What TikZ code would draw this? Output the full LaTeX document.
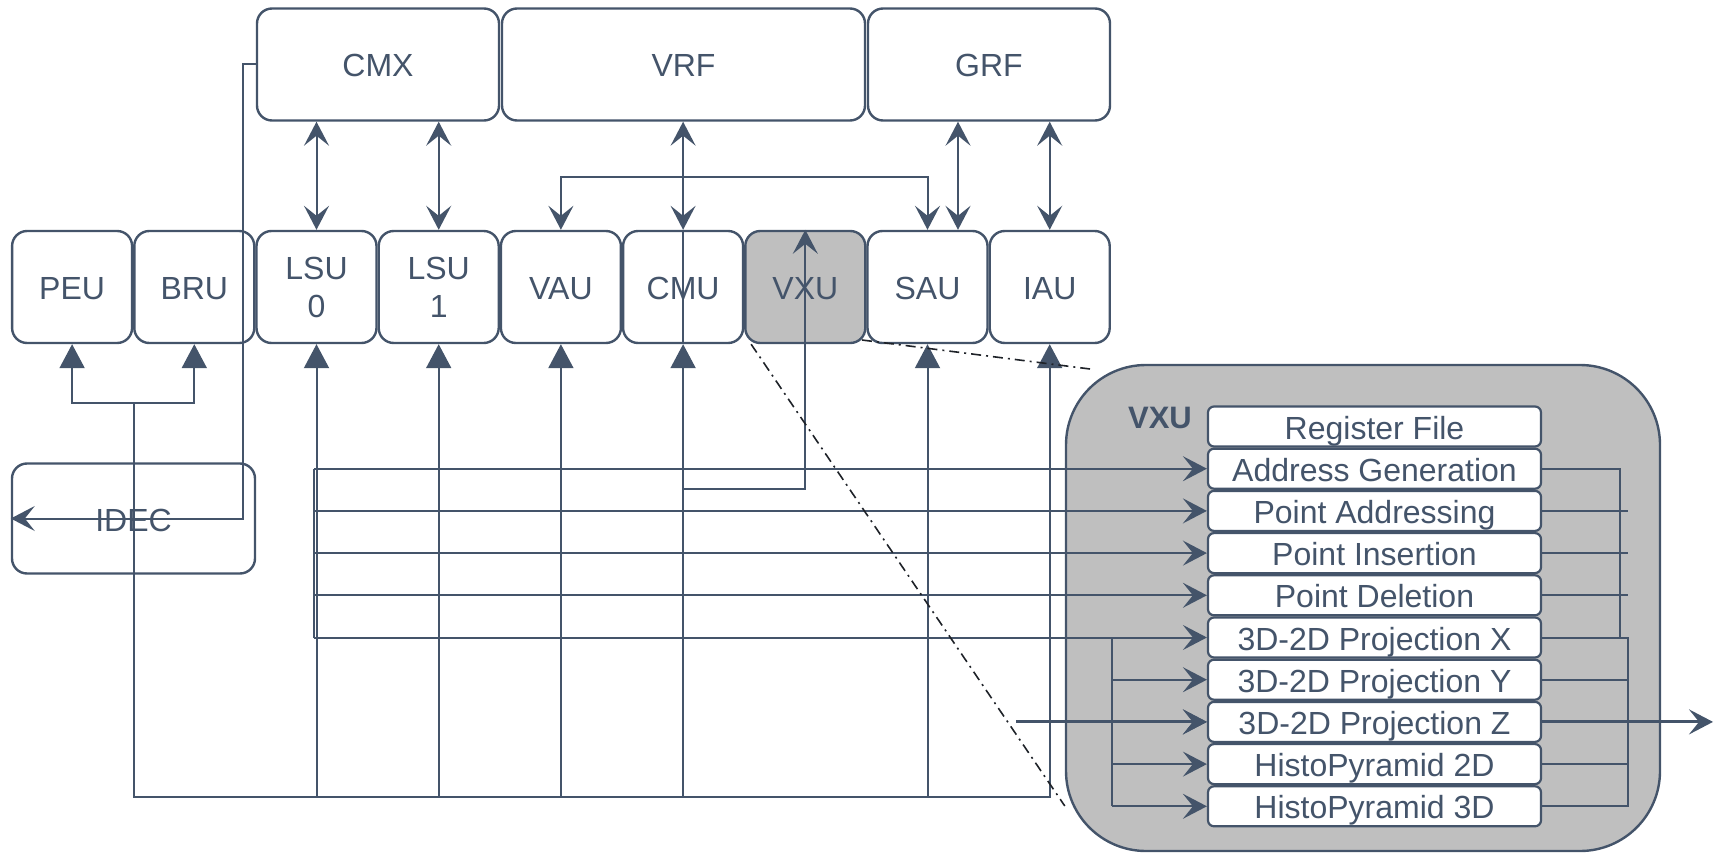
\documentclass[tikz,border=0pt]{standalone}
\usepackage{fontspec}
\setmainfont{Liberation Sans}
\usetikzlibrary{arrows.meta}
\definecolor{ink}{HTML}{44546A}
\definecolor{fillg}{HTML}{BFBFBF}
\definecolor{dashk}{HTML}{1E2228}
\newcommand\lblfont{\fontsize{32}{38}\selectfont}
\newcommand\vxufont{\fontsize{31}{38}\selectfont}
\tikzset{
  unitbox/.style={draw=ink, fill=white, line width=2.4pt, rounded corners=15pt, minimum width=120pt, minimum height=112pt, inner sep=0pt, text=ink, font=\lblfont},
  sline/.style={text height=32pt, text depth=7pt},
  inbox/.style={draw=ink, fill=white, line width=2.2pt, rounded corners=6pt, minimum width=333pt, minimum height=40pt, inner sep=0pt, text=ink, font=\lblfont, text height=32pt, text depth=7pt},
  bigbox/.style={draw=ink, fill=fillg, line width=2.4pt, rounded corners=80pt, minimum width=594pt, minimum height=486pt, inner sep=0pt},
  conn/.style={draw=ink, line width=2pt},
  thk/.style={line width=3pt},
  tri/.style={conn, -{Triangle[length=24pt,width=25pt]}},
  stl/.style={conn, -{Stealth[length=24pt,width=25pt,inset=10pt]}},
  dbl/.style={conn, {Stealth[length=24pt,width=25pt,inset=10pt]}-{Stealth[length=24pt,width=25pt,inset=10pt]}},
  dd/.style={draw=dashk, line width=1.6pt, dash pattern=on 10pt off 5pt on 2pt off 5pt}
}
\begin{document}
\begin{tikzpicture}[x=1pt,y=-1pt]
\useasboundingbox (0,0) rectangle (1715,853);

% enlarged VXU
\node[bigbox] (big) at (1363,608) {};
\node[font=\bfseries\vxufont, text=ink, inner sep=0pt] (vxulbl) at (1160,418) {VXU};

% top row
\node[unitbox, sline, minimum width=242pt] (cmx) at (378,64.5) {CMX};
\node[unitbox, sline, minimum width=363pt] (vrf) at (683.5,64.5) {VRF};
\node[unitbox, sline, minimum width=242pt] (grf) at (989,64.5) {GRF};

% unit row
\node[unitbox, sline] (peu) at (72.1,287) {PEU};
\node[unitbox, sline] (bru) at (194.3,287) {BRU};
\node[unitbox, align=center] (lsu0) at (316.5,287) {LSU\\0};
\node[unitbox, align=center] (lsu1) at (438.7,287) {LSU\\1};
\node[unitbox, sline] (vau) at (560.9,287) {VAU};
\node[unitbox, sline] (cmu) at (683.1,287) {CMU};
\node[unitbox, sline, fill=fillg] (vxu) at (805.3,287) {VXU};
\node[unitbox, sline] (sau) at (927.5,287) {SAU};
\node[unitbox, sline] (iau) at (1049.7,287) {IAU};
\node[unitbox, sline, minimum width=243pt, minimum height=110pt] (idec) at (133.5,518.5) {IDEC};

% inner VXU blocks
\node[inbox] (rf) at (1374.5,426.5) {Register File};
\node[inbox] (ag) at (1374.5,468.7) {Address Generation};
\node[inbox] (pa) at (1374.5,510.9) {Point Addressing};
\node[inbox] (pi) at (1374.5,553.1) {Point Insertion};
\node[inbox] (pd) at (1374.5,595.3) {Point Deletion};
\node[inbox] (px) at (1374.5,637.5) {3D-2D Projection X};
\node[inbox] (py) at (1374.5,679.7) {3D-2D Projection Y};
\node[inbox] (pz) at (1374.5,721.9) {3D-2D Projection Z};
\node[inbox] (h2) at (1374.5,764.1) {HistoPyramid 2D};
\node[inbox] (h3) at (1374.5,806.3) {HistoPyramid 3D};

% register file links
\draw[dbl] (lsu0.north) -- (lsu0.north |- cmx.south);
\draw[dbl] (lsu1.north) -- (lsu1.north |- cmx.south);
\draw[dbl] (cmu.north) -- (cmu.north |- vrf.south);
\draw[dbl] ([xshift=30.5pt]sau.north) -- ([xshift=30.5pt]sau.north |- grf.south);
\draw[dbl] (iau.north) -- (iau.north |- grf.south);
\coordinate (br) at (683.1,177);
\draw[dbl] (vau.north) |- (br) -| (sau.north);
\draw[conn] (cmu.north) -- (cmu.south);

% IDEC feed
\coordinate (ifd) at (243,0);
\draw[stl] (cmx.west) -| (ifd |- idec.west) -- (idec.west);

% bus
\coordinate (pb) at (133.5,403);
\coordinate (bus) at (133.5,797);
\draw[tri] (pb) -| (peu.south);
\draw[tri] (pb) -| (bru.south);
\draw[tri] (pb) -- (bus) -- (bus -| iau.south) -- (iau.south);
\draw[tri] (bus -| lsu0.south) -- (lsu0.south);
\draw[tri] (bus -| lsu1.south) -- (lsu1.south);
\draw[tri] (bus -| vau.south) -- (vau.south);
\draw[tri] (bus -| cmu.south) -- (cmu.south);
\draw[tri] (bus -| sau.south) -- (sau.south);

% CMU to VXU
\coordinate (vf) at (683.1,489);
\draw[stl] (vf) -| (vxu.north);

% left bracket into VXU blocks
\coordinate (lb) at (314,0);
\draw[conn] (lb |- ag.west) -- (lb |- px.west);
\draw[stl] (lb |- ag.west) -- (ag.west);
\draw[stl, line width=2.6pt] (lb |- pa.west) -- (pa.west);
\draw[stl, line width=2.6pt] (lb |- pi.west) -- (pi.west);
\draw[stl] (lb |- pd.west) -- (pd.west);
\draw[stl] (lb |- px.west) -- (px.west);

\coordinate (rb) at (1111.5,0);
\draw[conn] (rb |- px.west) -- (rb |- h3.west);
\draw[stl] (rb |- py.west) -- (py.west);
\draw[stl] (rb |- pz.west) -- (pz.west);
\draw[stl] (rb |- h2.west) -- (h2.west);
\draw[stl] (rb |- h3.west) -- (h3.west);
\coordinate (pzin) at (1016,0);
\draw[stl, thk] (pzin |- pz.west) -- (pz.west);

% outputs
\coordinate (ro1) at (1620,0);
\coordinate (ro2) at (1627.5,0);
\draw[conn] (ag.east) -| (ro1 |- px.east);
\draw[conn, line width=2.6pt] (pa.east) -- (ro2 |- pa.east);
\draw[conn] (pi.east) -- (ro2 |- pi.east);
\draw[conn] (pd.east) -- (ro2 |- pd.east);
\draw[conn] (px.east) -| (ro2 |- h3.east) -- (h3.east);
\draw[conn] (py.east) -- (ro2 |- py.east);
\draw[conn] (h2.east) -- (ro2 |- h2.east);
\coordinate (out) at (1713,0);
\draw[stl, thk] (pz.east) -- (out |- pz.east);

% zoom-in indication
\coordinate (d1) at ([xshift=7pt]vxu.south west);
\coordinate (d2) at (big.west |- 0,806);
\coordinate (d3) at (862,340);
\coordinate (d4) at (1090,369);
\draw[dd] (d1) -- (d2);
\draw[dd] (d3) -- (d4);
\end{tikzpicture}
\end{document}
